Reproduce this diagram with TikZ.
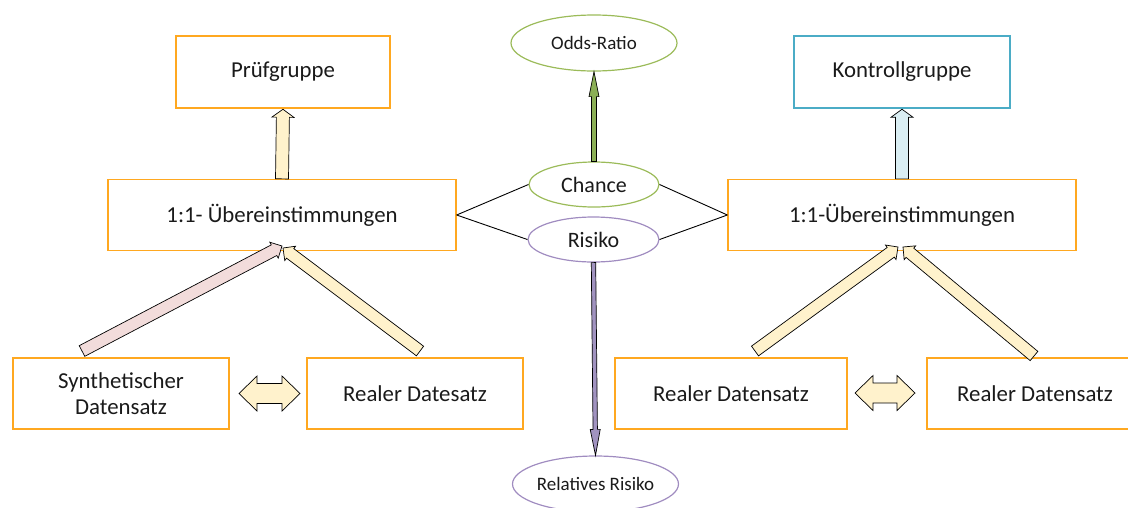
\documentclass[tikz,border=0pt]{standalone}
\usepackage{fontspec}
\setmainfont{Carlito}
\usetikzlibrary{shapes.geometric,calc}
\definecolor{orng}{HTML}{FFA820}
\definecolor{blu}{HTML}{4BACC6}
\definecolor{grn}{HTML}{9BBB59}
\definecolor{pur}{HTML}{A08CC0}
\definecolor{grnA}{HTML}{8BAF56}
\definecolor{purA}{HTML}{A193C0}
\definecolor{yel}{HTML}{FFF2CC}
\definecolor{pnk}{HTML}{F2DCDB}
\definecolor{lblu}{HTML}{DAEEF3}
\definecolor{txt}{HTML}{1A1A1A}
% block arrow: style, tail, tip, shaft half width, head half width, head length
\newcommand{\blkarrow}[6]{%
  \coordinate (ba-h) at ($(#3)!#6!(#2)$);
  \draw[#1] ($(#2)!#4!90:(#3)$) -- ($(ba-h)!#4!-90:(#2)$) -- ($(ba-h)!#5!-90:(#2)$) -- (#3)
    -- ($(ba-h)!#5!90:(#2)$) -- ($(ba-h)!#4!90:(#2)$) -- ($(#2)!#4!-90:(#3)$) -- cycle;}
% double block arrow: style, end1, end2, shaft half width, head half width, head length
\newcommand{\dblarrow}[6]{%
  \coordinate (da-1) at ($(#2)!#6!(#3)$);
  \coordinate (da-2) at ($(#3)!#6!(#2)$);
  \draw[#1] (#2) -- ($(da-1)!#5!90:(#3)$) -- ($(da-1)!#4!90:(#3)$) -- ($(da-2)!#4!-90:(#2)$)
    -- ($(da-2)!#5!-90:(#2)$) -- (#3) -- ($(da-2)!#5!90:(#2)$) -- ($(da-2)!#4!90:(#2)$)
    -- ($(da-1)!#4!-90:(#3)$) -- ($(da-1)!#5!-90:(#3)$) -- cycle;}
\begin{document}
\begin{tikzpicture}[x=1pt,y=-1pt,
  box/.style={draw=orng, line width=1.3pt, minimum height=71pt, inner sep=0pt,
    text=txt, font=\fontsize{22.8}{26.5}\selectfont, align=center},
  bigbox/.style={draw=#1, line width=2.5pt, minimum width=214pt, minimum height=72pt,
    inner sep=0pt, text=txt, font=\fontsize{22.8}{26.5}\selectfont},
  ell/.style={ellipse, draw=#1, line width=1.2pt, inner sep=0pt, text=txt},
  conn/.style={draw=black, line width=0.9pt},
  arr/.style={fill=#1, draw=black, line width=0.7pt, line join=miter}]
\useasboundingbox (0,0) rectangle (1128,507);
\clip (0,0) rectangle (1128,507);

% boxes
\node[bigbox=orng] (pruef) at (283,72) {Prüfgruppe};
\node[bigbox=blu, minimum width=216pt] (kontr) at (902,72) {Kontrollgruppe};
\node[box, minimum width=348pt] (l11) at (282,215) {1:1- Übereinstimmungen};
\node[box, minimum width=348pt] (r11) at (902,215) {1:1-Übereinstimmungen};
\node[box, minimum width=216pt] (syn) at (121,393.5) {Synthetischer\\Datensatz};
\node[box, minimum width=216pt] (real) at (415,393.5) {Realer Datesatz};
\node[box, minimum width=232pt] (realA) at (731,393.5) {Realer Datensatz};
\node[box, minimum width=216pt] (realB) at (1035,393.5) {Realer Datensatz};

% ellipses
\node[ell=grn, minimum width=166pt, minimum height=56pt, font=\fontsize{19}{22}\selectfont] (odds) at (594,43) {Odds-Ratio};
\node[ell=grn, minimum width=130pt, minimum height=45pt, font=\fontsize{22}{26}\selectfont] (chance) at (594,184.5) {Chance};
\node[ell=pur, minimum width=131pt, minimum height=45pt, font=\fontsize{22}{26}\selectfont] (risiko) at (593.5,239.5) {Risiko};
\node[ell=pur, minimum width=161pt, minimum height=56pt, font=\fontsize{19}{22}\selectfont] (rr) at (595.5,484) {Relatives Risiko};

% connectors
\draw[conn] (l11.east) -- (chance.west);
\draw[conn] (l11.east) -- (risiko.west);
\draw[conn] (chance.east) -- (r11.west);
\draw[conn] (risiko.east) -- (r11.west);

% vertical block arrows
\blkarrow{arr=grnA}{chance.north}{odds.south}{2.5pt}{5pt}{25pt}
\blkarrow{arr=purA}{risiko.south}{rr.north}{2.2pt}{5pt}{26pt}
\blkarrow{arr=yel}{l11.north}{pruef.south}{6.5pt}{11pt}{8pt}
\blkarrow{arr=lblu}{r11.north}{kontr.south}{6.5pt}{11pt}{8pt}

% diagonal block arrows
\coordinate (pt1) at (82,351);
\coordinate (pt2) at (420,351);
\coordinate (tipL1) at (282,246);
\coordinate (tipL2) at (283,248);
\coordinate (qt1) at (755,351);
\coordinate (qt2) at (1034,356);
\coordinate (tipR1) at (898,247);
\coordinate (tipR2) at (903,247);
\blkarrow{arr=pnk}{pt1}{tipL1}{6pt}{9pt}{9pt}
\blkarrow{arr=yel}{pt2}{tipL2}{6pt}{9pt}{9pt}
\blkarrow{arr=yel}{qt1}{tipR1}{6pt}{9pt}{9pt}
\blkarrow{arr=yel}{qt2}{tipR2}{6pt}{9pt}{9pt}

% double block arrows
\coordinate (dl1) at (239,393.5);
\coordinate (dl2) at (300,393.5);
\coordinate (dr1) at (855,393);
\coordinate (dr2) at (915,393);
\dblarrow{arr=yel}{dl1}{dl2}{10pt}{17.5pt}{18pt}
\dblarrow{arr=yel}{dr1}{dr2}{10pt}{17.5pt}{18pt}
\end{tikzpicture}
\end{document}
